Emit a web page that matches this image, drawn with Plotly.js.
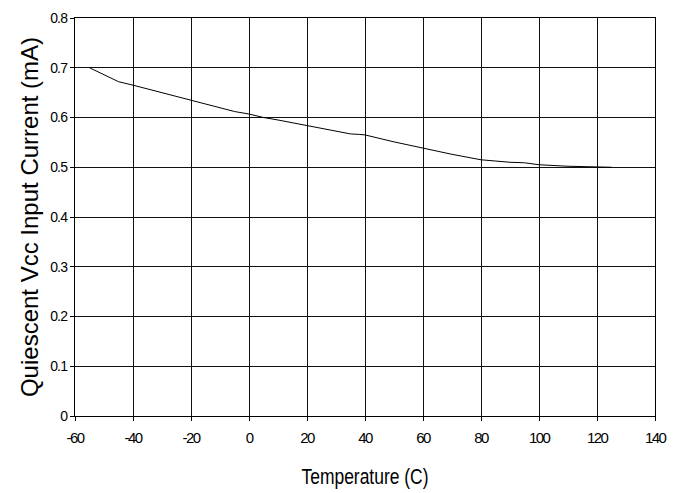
<!DOCTYPE html>
<html>
<head>
<meta charset="utf-8">
<script src="https://cdn.plot.ly/plotly-3.0.1.min.js"></script>
<style>html,body{margin:0;padding:0;background:#fff;}#chart{width:682px;height:493px;}
.xtick text{letter-spacing:-1.6px;}
.ytick text{letter-spacing:-0.8px;}
</style>
</head>
<body>
<div id="chart"></div>
<script>
const temperatureC = [-55, -45, -40, -30, -20, -5, 0, 5, 10, 20, 30, 35, 38, 40, 50, 60, 70, 80, 90, 95, 100, 110, 120, 125];
const currentMA = [0.700, 0.672, 0.665, 0.650, 0.636, 0.612, 0.607, 0.600, 0.595, 0.584, 0.572, 0.567, 0.566, 0.565, 0.551, 0.538, 0.526, 0.515, 0.510, 0.509, 0.505, 0.502, 0.501, 0.500];
const xTicks = [-60, -40, -20, 0, 20, 40, 60, 80, 100, 120, 140];
const xTickText = ['-60', '-40', '-20', '0', '20', '40', '60', '80', '100', '120', '140'];
const yTicks = [0, 0.1, 0.2, 0.3, 0.4, 0.5, 0.6, 0.7, 0.8];
const yTickText = ['0', '0.1', '0.2', '0.3', '0.4', '0.5', '0.6', '0.7', '0.8'];

const sans = 'Liberation Sans, Arial, sans-serif';

Plotly.newPlot('chart', [{
  x: temperatureC, y: currentMA, type: 'scatter', mode: 'lines',
  line: {color: '#000', width: 1}, hoverinfo: 'skip'
}], {
  width: 682, height: 493,
  margin: {l: 75, r: 27, t: 18, b: 77},
  paper_bgcolor: '#fff', plot_bgcolor: '#fff',
  showlegend: false,
  xaxis: {
    range: [-60, 140], tickmode: 'array', tickvals: xTicks, ticktext: xTickText,
    showgrid: true, gridcolor: '#111', gridwidth: 1,
    zeroline: false, showline: true, linecolor: '#000', linewidth: 1, mirror: true,
    ticks: 'outside', ticklen: 4, tickcolor: '#000', ticklabelstandoff: 4,
    tickfont: {family: sans, size: 15, color: '#000'},
    title: {text: 'Temperature (C)', font: {family: sans, size: 22, color: '#000'}, standoff: 23}
  },
  yaxis: {
    range: [0, 0.8], tickmode: 'array', tickvals: yTicks, ticktext: yTickText,
    showgrid: true, gridcolor: '#111', gridwidth: 1,
    zeroline: false, showline: true, linecolor: '#000', linewidth: 1, mirror: true,
    ticks: 'outside', ticklen: 4, tickcolor: '#000',
    tickfont: {family: sans, size: 14, color: '#000'},
    title: {text: 'Quiescent Vcc Input Current (mA)', font: {family: sans, size: 24, color: '#000'}, standoff: 4}
  }
}, {displayModeBar: false, staticPlot: true}).then(function (gd) {
  const xt = gd.querySelector('.xtitle');
  if (xt) { xt.setAttribute('textLength', '127'); xt.setAttribute('lengthAdjust', 'spacingAndGlyphs'); }
});
</script>
</body>
</html>
